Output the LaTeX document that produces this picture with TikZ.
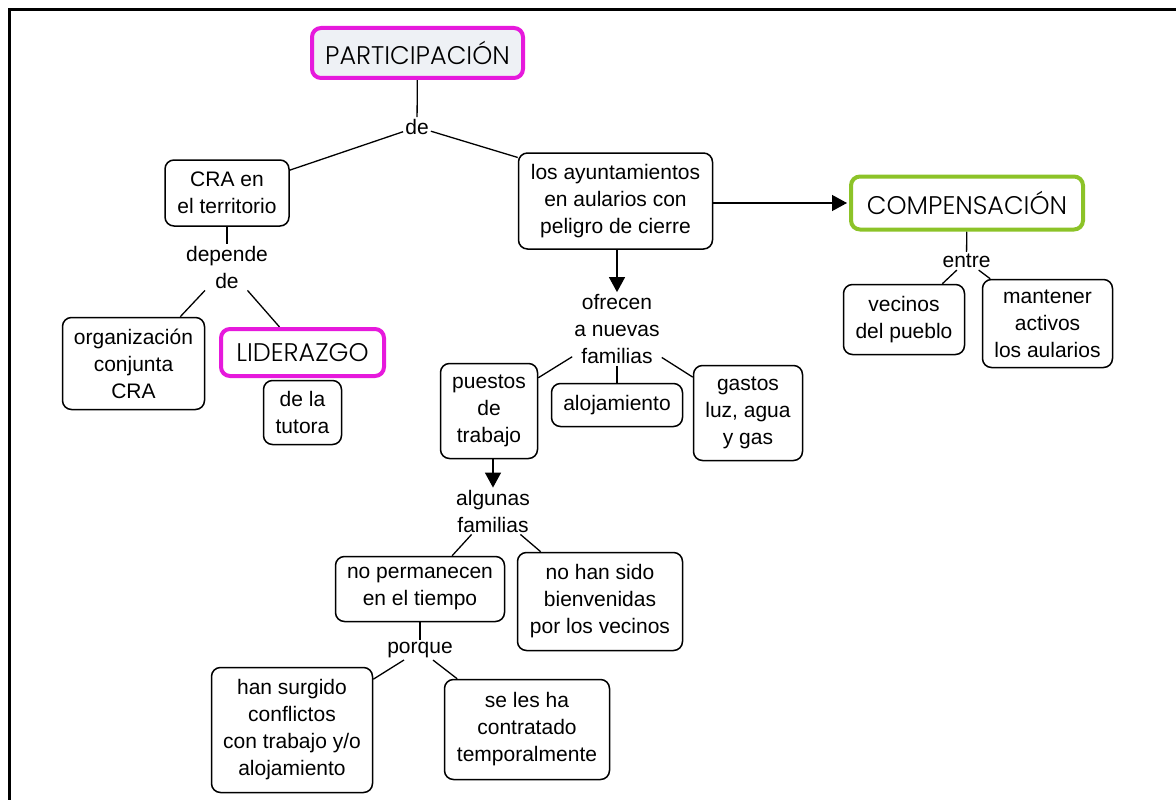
\documentclass[tikz,border=0pt]{standalone}
\usepackage{fontspec}
\setmainfont{Liberation Sans}
\newfontfamily\gothic{Poppins Light}
\usetikzlibrary{arrows.meta,backgrounds}
\definecolor{magentaedge}{RGB}{230,25,220}
\definecolor{greenedge}{RGB}{140,195,40}
\definecolor{paleblue}{RGB}{238,241,245}
\tikzset{
  concept/.style={draw=black, line width=1.5pt, rounded corners=9pt, fill=white,
    align=center, inner sep=0pt, font=\fontsize{21}{27}\selectfont},
  keyconcept/.style={concept, line width=4pt, font=\gothic\fontsize{25.5}{30}\selectfont},
  linkword/.style={align=center, inner sep=2pt, font=\fontsize{21}{27}\selectfont},
  link/.style={line width=1.3pt},
  flow/.style={link, -{Triangle[length=15pt,width=16pt]}},
  sz/.style 2 args={minimum width=#1pt, minimum height=#2pt},
}
\begin{document}
\begin{tikzpicture}[x=1pt, y=-1pt]
\useasboundingbox (0,0) rectangle (1176,800);
% page frame
\draw[line width=3pt] (1176,9.5) -- (9.5,9.5) -- (9.5,800);

% concepts
\node[keyconcept, draw=magentaedge, fill=paleblue, sz={211}{50}] (part) at (417.5,53) {PARTICIPACIÓN};
\node[linkword] (de1) at (417,127) {de};
\node[concept, sz={124}{66}] (cra) at (227,193) {CRA en\\el territorio};
\node[concept, sz={194}{96}] (ayunt) at (615.5,201) {los ayuntamientos\\en aularios con\\peligro de cierre};
\node[keyconcept, draw=greenedge, sz={232}{53}] (comp) at (967,203) {COMPENSACIÓN};

\node[linkword] (dep) at (227,267) {depende\\de};
\node[concept, sz={142}{92}] (org) at (133.5,363.5) {organización\\conjunta\\CRA};
\node[keyconcept, draw=magentaedge, sz={163}{47}] (lid) at (302.5,352.5) {LIDERAZGO};
\node[concept, sz={78}{64}] (tut) at (302.5,412.5) {de la\\tutora};

\node[linkword] (ofr) at (617,329) {ofrecen\\a nuevas\\familias};
\node[concept, sz={97}{95}] (pue) at (489,411) {puestos\\de\\trabajo};
\node[concept, sz={131}{43}] (aloj) at (617,405) {alojamiento};
\node[concept, sz={109}{95}] (gas) at (748,413) {gastos\\luz, agua\\y gas};

\node[linkword] (alg) at (493,511) {algunas\\familias};
\node[concept, sz={169}{65}] (nop) at (420,589) {no permanecen\\en el tiempo};
\node[concept, sz={165}{98}] (nohan) at (600,601.5) {no han sido\\bienvenidas\\por los vecinos};
\node[linkword] (porq) at (420,650) {porque};
\node[concept, sz={161}{125}] (hans) at (292,730) {han surgido\\conflictos\\con trabajo y/o\\alojamiento};
\node[concept, sz={165}{100}] (seles) at (527,729.5) {se les ha\\contratado\\temporalmente};

\node[linkword] (entre) at (966.5,261) {entre};
\node[concept, sz={121}{70}] (vec) at (904,319.5) {vecinos\\del pueblo};
\node[concept, sz={130}{88}] (mant) at (1047.5,323.5) {mantener\\activos\\los aularios};

% connectors
\begin{scope}[on background layer]
\draw[link] (part) -- (de1);
\draw[link] (de1) -- (cra.20);
\draw[link] (de1) -- (ayunt.156);
\draw[flow] (ayunt.east |- comp.west) -- ([xshift=-2pt]comp.west);
\draw[link] (cra) -- (dep);
\draw[link] (dep) -- (org.45);
\draw[link] (dep) -- (lid.132);
\draw[flow] (ayunt.south -| ofr.north) -- (ofr.north);
\draw[link] (ofr) -- (pue.34);
\draw[link] (ofr) -- (aloj);
\draw[link] (ofr) -- (gas.147);
\draw[flow] (pue.south -| alg.north) -- (alg.north);
\draw[link] (alg) -- (nop.46);
\draw[link] (alg) -- (nohan.140);
\draw[link] (nop) -- (porq);
\draw[link] (porq) -- (hans.32);
\draw[link] (porq) -- (seles.144);
\draw[link] (comp) -- (entre);
\draw[link] (entre) -- (vec.43);
\draw[link] (entre) -- (mant.142);
\end{scope}
\end{tikzpicture}
\end{document}
